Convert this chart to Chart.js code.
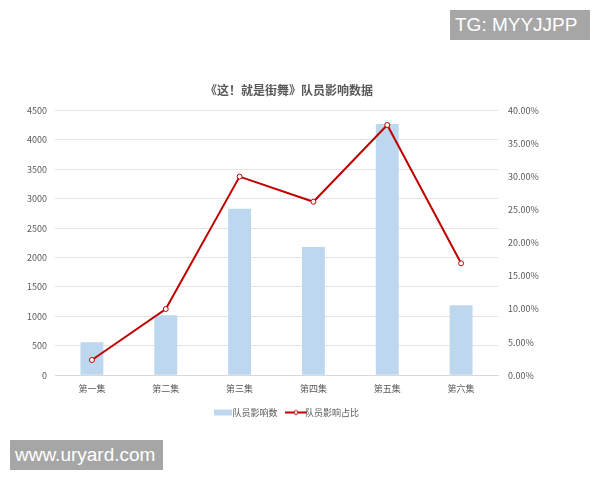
<!DOCTYPE html>
<html>
<head>
<meta charset="utf-8">
<script src="https://cdn.jsdelivr.net/npm/chart.js@4"></script>
<style>
  body { margin: 0; background: #fff; }
  #wrap { position: relative; width: 600px; height: 480px; }
  .mark { position: absolute; background: #a6a6a6; color: #fff; font-family: "Liberation Sans", Arial, sans-serif; font-size: 19px; line-height: 30px; padding: 0 5px; }
</style>
</head>
<body>
<div id="wrap">
  <canvas id="myChart" width="600" height="480"></canvas>
  <div class="mark" style="left:450px; top:10px; width:130px;">TG: MYYJJPP</div>
  <div class="mark" style="left:10px; top:440px; width:143px;">www.uryard.com</div>
</div>
<script>
// datos del grafico
const episodios = ["第一集", "第二集", "第三集", "第四集", "第五集", "第六集"];
const influencia = [560, 1020, 2830, 2180, 4270, 1190];
const porcentaje = [2.3, 10.0, 30.0, 26.2, 37.8, 16.9];
const tituloGrafico = "《这！就是街舞》队员影响数据";
const nombreBarras = "队员影响数";
const nombreLinea = "队员影响占比";

const fuente = '"Noto Sans CJK SC", "Noto Sans", sans-serif';
const gris = "#595959";

// iconos de la leyenda
function iconoBarra() {
    const c = document.createElement("canvas");
    c.width = 18; c.height = 8;
    const ctx = c.getContext("2d");
    ctx.fillStyle = "#bdd7ee";
    ctx.fillRect(0, 1, 18, 6);
    return c;
}
function iconoLinea() {
    const c = document.createElement("canvas");
    c.width = 22; c.height = 8;
    const ctx = c.getContext("2d");
    ctx.strokeStyle = "#c00000";
    ctx.lineWidth = 2;
    ctx.beginPath(); ctx.moveTo(0, 4); ctx.lineTo(22, 4); ctx.stroke();
    ctx.fillStyle = "#fff";
    ctx.lineWidth = 1;
    ctx.beginPath(); ctx.arc(11, 4, 2, 0, Math.PI * 2); ctx.fill(); ctx.stroke();
    return c;
}

const config = {
    data: {
        labels: episodios,
        datasets: [
            {
                type: "line",
                label: nombreLinea,
                data: porcentaje,
                yAxisID: "y1",
                borderColor: "#c00000",
                borderWidth: 2,
                pointRadius: 2.5,
                pointBackgroundColor: "#fff",
                pointBorderColor: "#c00000",
                pointBorderWidth: 1,
                tension: 0,
                order: 0
            },
            {
                type: "bar",
                label: nombreBarras,
                data: influencia,
                yAxisID: "y",
                backgroundColor: "#bdd7ee",
                barPercentage: 0.62,
                categoryPercentage: 0.5,
                order: 1
            }
        ]
    },
    options: {
        responsive: false,
        animation: false,
        layout: { padding: { left: 18, right: 40, top: 83, bottom: 53 } },
        plugins: {
            title: {
                display: true,
                text: tituloGrafico,
                color: gris,
                font: { family: fuente, size: 12, weight: "bold" },
                padding: { top: 0, bottom: 13 }
            },
            legend: {
                position: "bottom",
                labels: {
                    usePointStyle: true,
                    color: gris,
                    font: { family: fuente, size: 9 },
                    padding: 14,
                    generateLabels: (chart) => [
                        { text: nombreBarras, pointStyle: iconoBarra(), fontColor: gris, datasetIndex: 1, lineWidth: 0 },
                        { text: nombreLinea, pointStyle: iconoLinea(), fontColor: gris, datasetIndex: 0, lineWidth: 0 }
                    ]
                }
            },
            tooltip: { enabled: false }
        },
        scales: {
            x: {
                grid: { display: false },
                border: { color: "#d9d9d9" },
                ticks: { color: gris, font: { family: fuente, size: 9 }, padding: 0 }
            },
            y: {
                position: "left",
                min: 0, max: 4500,
                ticks: {
                    stepSize: 500, color: gris, font: { family: fuente, size: 9 }, padding: 8,
                    callback: (v) => String(v)
                },
                grid: { color: "#e3e3e3", drawTicks: false },
                border: { display: false },
                afterFit: (s) => { s.width = 37; }
            },
            y1: {
                position: "right",
                min: 0, max: 40,
                ticks: {
                    stepSize: 5, color: gris, font: { family: fuente, size: 9 }, padding: 10,
                    callback: (v) => v.toFixed(2) + "%"
                },
                grid: { display: false, drawTicks: false },
                border: { display: false },
                afterFit: (s) => { s.width = 62; }
            }
        }
    }
};

new Chart(document.getElementById("myChart"), config);
</script>
</body>
</html>
